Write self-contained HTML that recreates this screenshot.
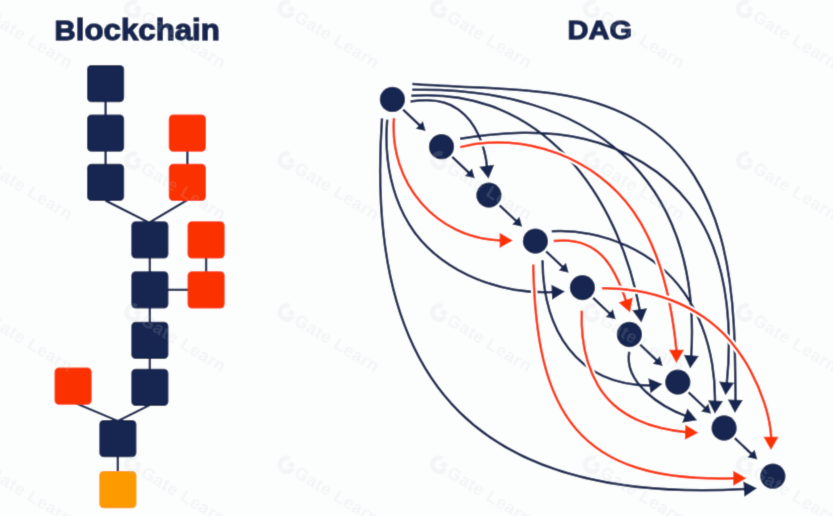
<!DOCTYPE html>
<html><head><meta charset="utf-8"><title>Blockchain vs DAG</title>
<style>html,body{margin:0;padding:0;background:#FCFDFD;}body{width:833px;height:516px;position:relative;overflow:hidden;font-family:"Liberation Sans",sans-serif;}</style>
</head><body>
<svg width="833" height="516" viewBox="0 0 833 516" style="position:absolute;left:0;top:0">
<defs><filter id="soft" x="-2%" y="-2%" width="104%" height="104%"><feConvolveMatrix order="3" kernelMatrix="1 6 1 6 36 6 1 6 1" divisor="64" edgeMode="duplicate" preserveAlpha="true"/></filter></defs>
<rect width="833" height="516" fill="#FCFDFD"/>
<g filter="url(#soft)"><rect x="-20" y="-20" width="873" height="556" fill="#FCFDFD"/>
<g stroke="#182851" stroke-width="2.4" stroke-linecap="butt" fill="none">
<line x1="105.60" y1="101.20" x2="105.60" y2="164.75"/>
<line x1="187.35" y1="150.70" x2="187.35" y2="164.75"/>
<line x1="105.60" y1="200.65" x2="149.85" y2="222.95"/>
<line x1="187.35" y1="199.95" x2="149.85" y2="222.25"/>
<line x1="149.85" y1="257.45" x2="149.85" y2="369.75"/>
<line x1="206.10" y1="257.45" x2="206.10" y2="272.25"/>
<line x1="167.45" y1="289.85" x2="188.50" y2="289.85"/>
<line x1="149.85" y1="404.95" x2="117.85" y2="421.00"/>
<line x1="75.20" y1="403.00" x2="117.85" y2="421.00"/>
<line x1="117.85" y1="456.20" x2="117.85" y2="472.00"/>
</g>
<rect x="87.00" y="65.00" width="37.20" height="37.20" rx="4.5" fill="#182851"/>
<rect x="87.00" y="114.50" width="37.20" height="37.20" rx="4.5" fill="#182851"/>
<rect x="87.00" y="163.75" width="37.20" height="37.20" rx="4.5" fill="#182851"/>
<rect x="131.25" y="221.25" width="37.20" height="37.20" rx="4.5" fill="#182851"/>
<rect x="131.25" y="271.25" width="37.20" height="37.20" rx="4.5" fill="#182851"/>
<rect x="131.25" y="321.75" width="37.20" height="37.20" rx="4.5" fill="#182851"/>
<rect x="131.25" y="368.75" width="37.20" height="37.20" rx="4.5" fill="#182851"/>
<rect x="99.25" y="420.00" width="37.20" height="37.20" rx="4.5" fill="#182851"/>
<rect x="168.75" y="114.50" width="37.20" height="37.20" rx="4.5" fill="#FB3200"/>
<rect x="168.75" y="163.75" width="37.20" height="37.20" rx="4.5" fill="#FB3200"/>
<rect x="187.50" y="221.25" width="37.20" height="37.20" rx="4.5" fill="#FB3200"/>
<rect x="187.50" y="271.25" width="37.20" height="37.20" rx="4.5" fill="#FB3200"/>
<rect x="54.50" y="367.50" width="37.20" height="37.20" rx="4.5" fill="#FB3200"/>
<rect x="99.25" y="471.00" width="37.20" height="37.20" rx="4.5" fill="#FC9A03"/>
<path d="M412.34,84.06 C437.95,85.99 463.64,86.71 489.45,87.99 C515.25,89.27 541.40,90.91 566.93,95.65 C592.46,100.38 617.48,108.74 639.51,121.98 C661.54,135.21 680.07,153.67 693.91,175.49 C707.76,197.31 717.06,221.61 723.16,246.77 C729.25,271.93 732.23,298.09 733.75,324.13 C735.26,350.18 735.30,376.11 735.53,400.81 L735.29,401.31" stroke="#182851" stroke-width="2.50" fill="none" stroke-linecap="butt" stroke-linejoin="round"/>
<polygon points="734.90,413.00 727.79,399.56 742.88,400.06" fill="#182851"/>
<path d="M412.20,89.75 C589.01,86.09 702.78,176.49 691.17,356.84 L691.17,356.84" stroke="#182851" stroke-width="2.50" fill="none" stroke-linecap="butt" stroke-linejoin="round"/>
<polygon points="690.15,368.50 683.78,354.69 698.82,356.01" fill="#182851"/>
<path d="M411.30,95.70 C541.81,86.45 618.34,194.58 639.89,310.80 L639.89,310.80" stroke="#182851" stroke-width="2.50" fill="none" stroke-linecap="butt" stroke-linejoin="round"/>
<polygon points="641.40,322.40 632.21,310.28 647.19,308.34" fill="#182851"/>
<path d="M410.52,101.46 C416.05,100.69 421.78,100.23 427.42,100.32 C433.07,100.42 438.64,101.06 443.87,102.51 C449.11,103.95 453.98,106.26 458.35,109.40 C462.72,112.54 466.62,116.44 470.01,120.84 C473.39,125.24 476.27,130.13 478.64,135.27 C481.01,140.41 482.89,145.79 484.28,151.18 C485.67,156.57 486.57,161.96 487.00,167.11 L486.95,167.25" stroke="#182851" stroke-width="2.50" fill="none" stroke-linecap="butt" stroke-linejoin="round"/>
<polygon points="488.50,178.85 479.27,166.76 494.24,164.77" fill="#182851"/>
<path d="M382.00,118.40 C363.16,392.64 486.38,503.85 745.38,489.02 L745.38,489.02" stroke="#182851" stroke-width="2.50" fill="none" stroke-linecap="butt" stroke-linejoin="round"/>
<polygon points="757.05,488.20 744.41,496.65 743.36,481.59" fill="#182851"/>
<path d="M387.24,119.73 C386.07,132.56 386.14,145.81 387.61,158.94 C389.08,172.08 391.95,185.09 396.34,197.43 C400.74,209.78 406.67,221.47 414.27,231.95 C421.87,242.43 431.25,251.65 441.83,259.50 C452.41,267.34 464.16,273.83 476.46,278.88 C488.75,283.93 501.52,287.54 514.33,289.69 C527.13,291.84 540.07,292.57 553.15,292.01 L553.26,292.12" stroke="#182851" stroke-width="2.50" fill="none" stroke-linecap="butt" stroke-linejoin="round"/>
<polygon points="564.95,291.55 552.13,299.74 551.40,284.65" fill="#182851"/>
<path d="M460.05,138.69 C480.35,135.46 501.29,133.15 522.26,132.83 C543.22,132.51 564.21,134.19 584.59,138.96 C604.97,143.73 624.83,151.75 642.78,162.67 C660.72,173.59 676.74,187.40 689.38,203.68 C702.01,219.97 711.09,238.80 717.30,258.86 C723.51,278.93 726.89,300.22 728.21,321.37 C729.54,342.53 728.80,363.56 726.79,383.11 L726.46,383.58" stroke="#182851" stroke-width="2.50" fill="none" stroke-linecap="butt" stroke-linejoin="round"/>
<polygon points="725.60,395.25 719.04,381.53 734.10,382.64" fill="#182851"/>
<path d="M551.72,231.35 C564.50,230.64 577.41,231.55 590.04,233.97 C602.66,236.39 614.99,240.31 626.61,245.62 C638.24,250.93 649.15,257.63 658.94,265.60 C668.72,273.58 677.33,282.85 684.52,293.20 C691.71,303.54 697.57,314.90 702.15,326.85 C706.73,338.80 710.04,351.35 712.15,364.04 C714.26,376.74 715.17,389.59 714.96,402.17 L715.45,402.06" stroke="#182851" stroke-width="2.50" fill="none" stroke-linecap="butt" stroke-linejoin="round"/>
<polygon points="714.90,413.75 707.98,400.21 723.06,400.92" fill="#182851"/>
<path d="M542.50,260.25 C543.17,329.41 575.87,385.52 650.88,385.61 L650.88,385.61" stroke="#182851" stroke-width="2.50" fill="none" stroke-linecap="butt" stroke-linejoin="round"/>
<polygon points="662.45,383.90 650.49,393.30 648.29,378.36" fill="#182851"/>
<path d="M629.25,351.75 C623.60,383.11 661.40,407.01 686.18,416.14 L686.18,416.14" stroke="#182851" stroke-width="2.50" fill="none" stroke-linecap="butt" stroke-linejoin="round"/>
<polygon points="697.15,420.20 682.15,422.70 687.39,408.54" fill="#182851"/>
<path d="M394.00,118.10 C388.92,182.58 435.63,238.64 501.10,240.40" stroke="#FCFDFD" stroke-width="6.40" fill="none" stroke-linecap="butt" stroke-linejoin="round"/>
<path d="M394.00,118.10 C388.92,182.58 435.63,238.64 501.10,240.40 L501.10,240.40" stroke="#FB3200" stroke-width="2.50" fill="none" stroke-linecap="butt" stroke-linejoin="round"/>
<polygon points="512.80,240.40 499.60,247.95 499.60,232.85" fill="#FB3200"/>
<path d="M460.14,147.16 C476.08,143.05 492.58,141.69 508.95,142.79 C525.32,143.89 541.55,147.45 556.93,153.19 C572.31,158.93 586.85,166.86 599.82,176.68 C612.80,186.50 624.14,198.25 633.41,211.54 C642.68,224.83 650.06,239.58 655.94,255.06 C661.81,270.53 666.20,286.74 669.49,302.93 C672.78,319.12 674.98,335.30 676.49,350.72" stroke="#FCFDFD" stroke-width="6.40" fill="none" stroke-linecap="butt" stroke-linejoin="round"/>
<path d="M460.14,147.16 C476.08,143.05 492.58,141.69 508.95,142.79 C525.32,143.89 541.55,147.45 556.93,153.19 C572.31,158.93 586.85,166.86 599.82,176.68 C612.80,186.50 624.14,198.25 633.41,211.54 C642.68,224.83 650.06,239.58 655.94,255.06 C661.81,270.53 666.20,286.74 669.49,302.93 C672.78,319.12 674.98,335.30 676.49,350.72 L676.48,351.20" stroke="#FB3200" stroke-width="2.50" fill="none" stroke-linecap="butt" stroke-linejoin="round"/>
<polygon points="676.40,362.90 668.94,349.65 684.04,349.75" fill="#FB3200"/>
<path d="M553.70,241.10 C598.29,236.23 614.25,265.48 626.19,301.44" stroke="#FCFDFD" stroke-width="6.40" fill="none" stroke-linecap="butt" stroke-linejoin="round"/>
<path d="M553.70,241.10 C598.29,236.23 614.25,265.48 626.19,301.44 L626.19,301.44" stroke="#FB3200" stroke-width="2.50" fill="none" stroke-linecap="butt" stroke-linejoin="round"/>
<polygon points="630.00,312.50 618.56,302.48 632.84,297.56" fill="#FB3200"/>
<path d="M533.25,264.50 C535.91,412.30 576.96,483.39 734.75,478.20" stroke="#FCFDFD" stroke-width="6.40" fill="none" stroke-linecap="butt" stroke-linejoin="round"/>
<path d="M533.25,264.50 C535.91,412.30 576.96,483.39 734.75,478.20 L734.75,478.20" stroke="#FB3200" stroke-width="2.50" fill="none" stroke-linecap="butt" stroke-linejoin="round"/>
<polygon points="746.45,478.20 733.25,485.75 733.25,470.65" fill="#FB3200"/>
<path d="M581.82,310.62 C581.43,319.07 581.66,327.81 582.62,336.52 C583.59,345.22 585.29,353.90 587.85,362.23 C590.42,370.56 593.84,378.54 598.25,385.86 C602.66,393.17 608.05,399.83 614.54,405.50 C621.04,411.17 628.63,415.86 636.59,419.59 C644.55,423.33 652.76,426.07 661.08,428.08 C669.40,430.09 677.88,431.38 686.58,432.28" stroke="#FCFDFD" stroke-width="6.40" fill="none" stroke-linecap="butt" stroke-linejoin="round"/>
<path d="M581.82,310.62 C581.43,319.07 581.66,327.81 582.62,336.52 C583.59,345.22 585.29,353.90 587.85,362.23 C590.42,370.56 593.84,378.54 598.25,385.86 C602.66,393.17 608.05,399.83 614.54,405.50 C621.04,411.17 628.63,415.86 636.59,419.59 C644.55,423.33 652.76,426.07 661.08,428.08 C669.40,430.09 677.88,431.38 686.58,432.28 L686.61,432.29" stroke="#FB3200" stroke-width="2.50" fill="none" stroke-linecap="butt" stroke-linejoin="round"/>
<polygon points="698.30,432.70 684.84,439.78 685.37,424.69" fill="#FB3200"/>
<path d="M601.90,288.18 C613.74,287.97 625.74,288.88 637.55,290.92 C649.36,292.96 661.00,296.14 672.11,300.49 C683.23,304.84 693.84,310.35 703.60,317.05 C713.35,323.75 722.23,331.69 730.02,340.71 C737.81,349.73 744.58,359.77 750.31,370.37 C756.05,380.96 760.79,392.12 764.47,403.43 C768.15,414.73 770.69,426.25 771.26,438.15" stroke="#FCFDFD" stroke-width="6.40" fill="none" stroke-linecap="butt" stroke-linejoin="round"/>
<path d="M601.90,288.18 C613.74,287.97 625.74,288.88 637.55,290.92 C649.36,292.96 661.00,296.14 672.11,300.49 C683.23,304.84 693.84,310.35 703.60,317.05 C713.35,323.75 722.23,331.69 730.02,340.71 C737.81,349.73 744.58,359.77 750.31,370.37 C756.05,380.96 760.79,392.12 764.47,403.43 C768.15,414.73 770.69,426.25 771.26,438.15 L771.00,438.30" stroke="#FB3200" stroke-width="2.50" fill="none" stroke-linecap="butt" stroke-linejoin="round"/>
<polygon points="771.00,450.00 763.45,436.80 778.55,436.80" fill="#FB3200"/>
<line x1="403.14" y1="109.64" x2="420.62" y2="126.23" stroke="#182851" stroke-width="2.5"/>
<polygon points="425.69,131.05 415.73,128.76 422.89,121.22" fill="#182851"/>
<line x1="452.24" y1="156.89" x2="469.72" y2="173.48" stroke="#182851" stroke-width="2.5"/>
<polygon points="474.79,178.30 464.83,176.01 471.99,168.47" fill="#182851"/>
<line x1="499.64" y1="205.29" x2="517.12" y2="221.88" stroke="#182851" stroke-width="2.5"/>
<polygon points="522.19,226.70 512.23,224.41 519.39,216.87" fill="#182851"/>
<line x1="546.14" y1="251.29" x2="563.62" y2="267.88" stroke="#182851" stroke-width="2.5"/>
<polygon points="568.69,272.70 558.73,270.41 565.89,262.87" fill="#182851"/>
<line x1="593.14" y1="297.79" x2="610.62" y2="314.38" stroke="#182851" stroke-width="2.5"/>
<polygon points="615.69,319.20 605.73,316.91 612.89,309.37" fill="#182851"/>
<line x1="640.14" y1="344.69" x2="657.62" y2="361.28" stroke="#182851" stroke-width="2.5"/>
<polygon points="662.69,366.10 652.73,363.81 659.89,356.27" fill="#182851"/>
<line x1="688.54" y1="392.29" x2="706.02" y2="408.88" stroke="#182851" stroke-width="2.5"/>
<polygon points="711.09,413.70 701.13,411.41 708.29,403.87" fill="#182851"/>
<line x1="734.84" y1="438.19" x2="752.32" y2="454.78" stroke="#182851" stroke-width="2.5"/>
<polygon points="757.39,459.60 747.43,457.31 754.59,449.77" fill="#182851"/>
<circle cx="392.40" cy="99.45" r="12.65" fill="#182851"/>
<circle cx="441.50" cy="146.70" r="12.65" fill="#182851"/>
<circle cx="488.90" cy="195.10" r="12.65" fill="#182851"/>
<circle cx="535.40" cy="241.10" r="12.65" fill="#182851"/>
<circle cx="582.40" cy="287.60" r="12.65" fill="#182851"/>
<circle cx="629.40" cy="334.50" r="12.65" fill="#182851"/>
<circle cx="677.80" cy="382.10" r="12.65" fill="#182851"/>
<circle cx="724.10" cy="428.00" r="12.65" fill="#182851"/>
<circle cx="772.85" cy="476.20" r="12.65" fill="#182851"/>
<text x="54.6" y="39.5" font-family="Liberation Sans, sans-serif" font-weight="700" font-size="28" fill="#182851" textLength="165.3" lengthAdjust="spacingAndGlyphs" stroke="#182851" stroke-width="1.4" stroke-linejoin="round"><tspan font-size="27.2">B</tspan><tspan font-size="29.0">lockchain</tspan></text>
<text x="567.5" y="38.9" font-family="Liberation Sans, sans-serif" font-weight="700" font-size="26.4" fill="#182851" textLength="64.6" lengthAdjust="spacingAndGlyphs" stroke="#182851" stroke-width="1.3" stroke-linejoin="round">DAG</text>
<g fill="#c2cad6" stroke="none" opacity="0.15" font-family="Liberation Sans, sans-serif" font-weight="700" font-size="17.2">
<g transform="translate(-19.6,9.0) rotate(31)"><path d="M7,0.4 A7,7 0 1 1 -0.4,-7" fill="none" stroke="#c2cad6" stroke-width="4.6"/><rect x="1.2" y="-4.9" width="5.6" height="5.1"/><text x="11.2" y="6.1" textLength="95" lengthAdjust="spacing">Gate Learn</text></g>
<g transform="translate(133.3,9.0) rotate(31)"><path d="M7,0.4 A7,7 0 1 1 -0.4,-7" fill="none" stroke="#c2cad6" stroke-width="4.6"/><rect x="1.2" y="-4.9" width="5.6" height="5.1"/><text x="11.2" y="6.1" textLength="95" lengthAdjust="spacing">Gate Learn</text></g>
<g transform="translate(286.6,9.0) rotate(31)"><path d="M7,0.4 A7,7 0 1 1 -0.4,-7" fill="none" stroke="#c2cad6" stroke-width="4.6"/><rect x="1.2" y="-4.9" width="5.6" height="5.1"/><text x="11.2" y="6.1" textLength="95" lengthAdjust="spacing">Gate Learn</text></g>
<g transform="translate(439.3,9.0) rotate(31)"><path d="M7,0.4 A7,7 0 1 1 -0.4,-7" fill="none" stroke="#c2cad6" stroke-width="4.6"/><rect x="1.2" y="-4.9" width="5.6" height="5.1"/><text x="11.2" y="6.1" textLength="95" lengthAdjust="spacing">Gate Learn</text></g>
<g transform="translate(592.2,9.0) rotate(31)"><path d="M7,0.4 A7,7 0 1 1 -0.4,-7" fill="none" stroke="#c2cad6" stroke-width="4.6"/><rect x="1.2" y="-4.9" width="5.6" height="5.1"/><text x="11.2" y="6.1" textLength="95" lengthAdjust="spacing">Gate Learn</text></g>
<g transform="translate(745.2,9.0) rotate(31)"><path d="M7,0.4 A7,7 0 1 1 -0.4,-7" fill="none" stroke="#c2cad6" stroke-width="4.6"/><rect x="1.2" y="-4.9" width="5.6" height="5.1"/><text x="11.2" y="6.1" textLength="95" lengthAdjust="spacing">Gate Learn</text></g>
<g transform="translate(-19.6,160.6) rotate(31)"><path d="M7,0.4 A7,7 0 1 1 -0.4,-7" fill="none" stroke="#c2cad6" stroke-width="4.6"/><rect x="1.2" y="-4.9" width="5.6" height="5.1"/><text x="11.2" y="6.1" textLength="95" lengthAdjust="spacing">Gate Learn</text></g>
<g transform="translate(133.3,160.6) rotate(31)"><path d="M7,0.4 A7,7 0 1 1 -0.4,-7" fill="none" stroke="#c2cad6" stroke-width="4.6"/><rect x="1.2" y="-4.9" width="5.6" height="5.1"/><text x="11.2" y="6.1" textLength="95" lengthAdjust="spacing">Gate Learn</text></g>
<g transform="translate(286.6,160.6) rotate(31)"><path d="M7,0.4 A7,7 0 1 1 -0.4,-7" fill="none" stroke="#c2cad6" stroke-width="4.6"/><rect x="1.2" y="-4.9" width="5.6" height="5.1"/><text x="11.2" y="6.1" textLength="95" lengthAdjust="spacing">Gate Learn</text></g>
<g transform="translate(439.3,160.6) rotate(31)"><path d="M7,0.4 A7,7 0 1 1 -0.4,-7" fill="none" stroke="#c2cad6" stroke-width="4.6"/><rect x="1.2" y="-4.9" width="5.6" height="5.1"/><text x="11.2" y="6.1" textLength="95" lengthAdjust="spacing">Gate Learn</text></g>
<g transform="translate(592.2,160.6) rotate(31)"><path d="M7,0.4 A7,7 0 1 1 -0.4,-7" fill="none" stroke="#c2cad6" stroke-width="4.6"/><rect x="1.2" y="-4.9" width="5.6" height="5.1"/><text x="11.2" y="6.1" textLength="95" lengthAdjust="spacing">Gate Learn</text></g>
<g transform="translate(745.2,160.6) rotate(31)"><path d="M7,0.4 A7,7 0 1 1 -0.4,-7" fill="none" stroke="#c2cad6" stroke-width="4.6"/><rect x="1.2" y="-4.9" width="5.6" height="5.1"/><text x="11.2" y="6.1" textLength="95" lengthAdjust="spacing">Gate Learn</text></g>
<g transform="translate(-19.6,312.6) rotate(31)"><path d="M7,0.4 A7,7 0 1 1 -0.4,-7" fill="none" stroke="#c2cad6" stroke-width="4.6"/><rect x="1.2" y="-4.9" width="5.6" height="5.1"/><text x="11.2" y="6.1" textLength="95" lengthAdjust="spacing">Gate Learn</text></g>
<g transform="translate(133.3,312.6) rotate(31)"><path d="M7,0.4 A7,7 0 1 1 -0.4,-7" fill="none" stroke="#c2cad6" stroke-width="4.6"/><rect x="1.2" y="-4.9" width="5.6" height="5.1"/><text x="11.2" y="6.1" textLength="95" lengthAdjust="spacing">Gate Learn</text></g>
<g transform="translate(286.6,312.6) rotate(31)"><path d="M7,0.4 A7,7 0 1 1 -0.4,-7" fill="none" stroke="#c2cad6" stroke-width="4.6"/><rect x="1.2" y="-4.9" width="5.6" height="5.1"/><text x="11.2" y="6.1" textLength="95" lengthAdjust="spacing">Gate Learn</text></g>
<g transform="translate(439.3,312.6) rotate(31)"><path d="M7,0.4 A7,7 0 1 1 -0.4,-7" fill="none" stroke="#c2cad6" stroke-width="4.6"/><rect x="1.2" y="-4.9" width="5.6" height="5.1"/><text x="11.2" y="6.1" textLength="95" lengthAdjust="spacing">Gate Learn</text></g>
<g transform="translate(592.2,312.6) rotate(31)"><path d="M7,0.4 A7,7 0 1 1 -0.4,-7" fill="none" stroke="#c2cad6" stroke-width="4.6"/><rect x="1.2" y="-4.9" width="5.6" height="5.1"/><text x="11.2" y="6.1" textLength="95" lengthAdjust="spacing">Gate Learn</text></g>
<g transform="translate(745.2,312.6) rotate(31)"><path d="M7,0.4 A7,7 0 1 1 -0.4,-7" fill="none" stroke="#c2cad6" stroke-width="4.6"/><rect x="1.2" y="-4.9" width="5.6" height="5.1"/><text x="11.2" y="6.1" textLength="95" lengthAdjust="spacing">Gate Learn</text></g>
<g transform="translate(-19.6,464.8) rotate(31)"><path d="M7,0.4 A7,7 0 1 1 -0.4,-7" fill="none" stroke="#c2cad6" stroke-width="4.6"/><rect x="1.2" y="-4.9" width="5.6" height="5.1"/><text x="11.2" y="6.1" textLength="95" lengthAdjust="spacing">Gate Learn</text></g>
<g transform="translate(133.3,464.8) rotate(31)"><path d="M7,0.4 A7,7 0 1 1 -0.4,-7" fill="none" stroke="#c2cad6" stroke-width="4.6"/><rect x="1.2" y="-4.9" width="5.6" height="5.1"/><text x="11.2" y="6.1" textLength="95" lengthAdjust="spacing">Gate Learn</text></g>
<g transform="translate(286.6,464.8) rotate(31)"><path d="M7,0.4 A7,7 0 1 1 -0.4,-7" fill="none" stroke="#c2cad6" stroke-width="4.6"/><rect x="1.2" y="-4.9" width="5.6" height="5.1"/><text x="11.2" y="6.1" textLength="95" lengthAdjust="spacing">Gate Learn</text></g>
<g transform="translate(439.3,464.8) rotate(31)"><path d="M7,0.4 A7,7 0 1 1 -0.4,-7" fill="none" stroke="#c2cad6" stroke-width="4.6"/><rect x="1.2" y="-4.9" width="5.6" height="5.1"/><text x="11.2" y="6.1" textLength="95" lengthAdjust="spacing">Gate Learn</text></g>
<g transform="translate(592.2,464.8) rotate(31)"><path d="M7,0.4 A7,7 0 1 1 -0.4,-7" fill="none" stroke="#c2cad6" stroke-width="4.6"/><rect x="1.2" y="-4.9" width="5.6" height="5.1"/><text x="11.2" y="6.1" textLength="95" lengthAdjust="spacing">Gate Learn</text></g>
<g transform="translate(745.2,464.8) rotate(31)"><path d="M7,0.4 A7,7 0 1 1 -0.4,-7" fill="none" stroke="#c2cad6" stroke-width="4.6"/><rect x="1.2" y="-4.9" width="5.6" height="5.1"/><text x="11.2" y="6.1" textLength="95" lengthAdjust="spacing">Gate Learn</text></g>
</g>
</g>
</svg>
</body></html>
